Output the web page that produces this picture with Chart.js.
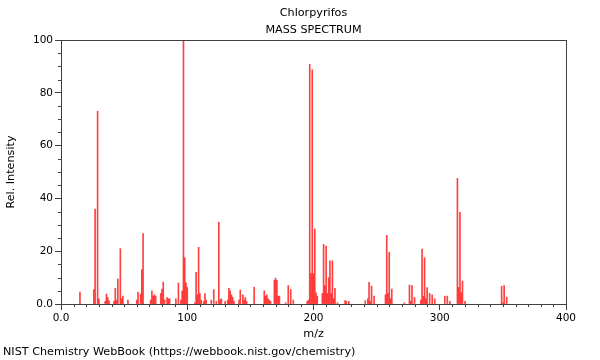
<!DOCTYPE html>
<html>
<head>
<meta charset="utf-8">
<script src="https://cdn.jsdelivr.net/npm/chart.js@4/dist/chart.umd.min.js"></script>
<style>
  html, body { margin: 0; padding: 0; background: #fff; }
  #wrap { width: 600px; height: 360px; }
</style>
</head>
<body>
<div id="wrap"><canvas id="c" width="600" height="360"></canvas></div>
<script>
// ---- data ----
const chartTitle = ['Chlorpyrifos', 'MASS SPECTRUM'];
const footerText = 'NIST Chemistry WebBook (https://webbook.nist.gov/chemistry)';
const xLabel = 'm/z';
const yLabel = 'Rel. Intensity';

const mz = [15,26,27,29,30,35,36,37,38,42,43,44,45,47,48,49,53,60,61,63,64,65,71,72,73,74,75,
  79,80,81,82,84,85,86,91,93,95,96,97,98,99,100,106,107,108,109,110,111,113,114,115,119,121,123,
  125,126,127,130,132,133,134,135,136,137,141,142,144,145,146,147,153,161,162,163,164,165,166,
  169,170,171,172,173,178,180,182,184,195,196,197,198,199,200,201,202,203,207,208,209,210,211,
  212,213,214,215,216,217,219,225,226,228,241,243,244,245,246,248,257,258,259,260,261,262,272,
  276,277,278,280,285,286,287,288,289,290,292,294,296,304,306,308,314,315,316,317,318,320,
  349,350,351,353];
const intensity = [4.5,5.5,36,73,2,1,3.8,2.5,1.2,1,6,1.5,9.5,21,2,3,1.5,1.5,4.4,3.8,13,26.7,1.5,5,3,3.5,3,
  4,5.7,8.3,1.5,2.5,2,2,2,8,1.5,5,100,17.5,8,6.2,0.5,12,3.5,21.5,4,1.5,1,4,1.5,1.5,5.5,1,
  31,1.5,2,1,1.5,6,5,3.5,2.5,1,1.5,5.3,3.5,1.5,2.5,1,6.3,5,3,3.5,2,1.5,1,
  9,9.8,9,3,3,0.5,7,5.5,1.5,1,1.5,90.8,11.5,88.7,11.5,28.4,4.3,3,4,22.6,7,22,4,
  10,16.4,4,16.4,2,6,0.5,1.3,1,1,1.3,2,8.2,1,6.8,3,3.5,26,4,19.6,2,5.7,0.5,
  7.2,1,7,2.5,1.5,20.8,3,17.5,2,6.2,4,3.5,2,3,3,1,47.6,6.3,34.7,4.3,8.7,1,
  6.7,0.5,7,2.6];

const xTicks = [0, 100, 200, 300, 400];
const yTicks = [0, 20, 40, 60, 80, 100];
const xMinorStep = 10;
const yMinorStep = 5;

const FONT = 'DejaVu Sans';
const AXIS_COLOR = '#404040';
const TEXT_SIZE = 11.2;
const TICK_SIZE = 10.5;

const peaks = mz.map((m, i) => ({ x: m, y: intensity[i] }));

// minor ticks + plot frame drawn through the library's scales
const framePlugin = {
  id: 'frameMinor',
  afterDraw(chart) {
    const { ctx, chartArea: a, scales: { x, y } } = chart;
    ctx.save();
    ctx.strokeStyle = AXIS_COLOR;
    ctx.lineWidth = 1;
    ctx.beginPath();
    for (let v = x.min; v <= x.max; v += xMinorStep) {
      if (xTicks.includes(v)) continue;
      const px = Math.round(x.getPixelForValue(v)) + 0.5;
      ctx.moveTo(px, a.bottom);
      ctx.lineTo(px, a.bottom + 3);
    }
    for (let v = y.min; v <= y.max; v += yMinorStep) {
      if (yTicks.includes(v)) continue;
      const py = Math.round(y.getPixelForValue(v)) + 0.5;
      ctx.moveTo(a.left, py);
      ctx.lineTo(a.left - 3, py);
    }
    ctx.stroke();
    ctx.strokeRect(Math.round(a.left) + 0.5, Math.round(a.top) + 0.5,
                   Math.round(a.right - a.left), Math.round(a.bottom - a.top));
    ctx.restore();
  }
};

new Chart(document.getElementById('c'), {
  type: 'bar',
  data: {
    datasets: [{
      data: peaks,
      backgroundColor: 'rgba(255,30,30,0.85)',
      borderWidth: 0,
      barThickness: 1,
    }]
  },
  options: {
    responsive: false,
    animation: false,
    layout: { padding: { left: 3, right: 34, top: 0, bottom: 0 } },
    plugins: {
      legend: { display: false },
      tooltip: { enabled: false },
      title: {
        display: true,
        text: chartTitle,
        fullSize: false,
        color: '#000',
        font: { family: FONT, size: TEXT_SIZE, weight: 'normal', lineHeight: 17 / TEXT_SIZE },
        padding: { top: 4.5, bottom: 1.5 }
      },
      subtitle: {
        display: true,
        text: footerText,
        position: 'bottom',
        align: 'start',
        fullSize: true,
        color: '#000',
        font: { family: FONT, size: TEXT_SIZE, weight: 'normal', lineHeight: 1.2 },
        padding: { top: 0.5, bottom: 1 }
      }
    },
    scales: {
      x: {
        type: 'linear',
        min: 0, max: 400,
        offset: false,
        afterFit(s) { s.height = 41; },
        afterBuildTicks(s) { s.ticks = xTicks.map(v => ({ value: v })); },
        grid: { display: true, drawOnChartArea: false, drawTicks: true, tickLength: 6, color: AXIS_COLOR, offset: false },
        border: { display: true, color: AXIS_COLOR },
        ticks: {
          color: '#000', padding: 2, maxRotation: 0, autoSkip: false,
          font: { family: FONT, size: TICK_SIZE },
          callback: v => v === 0 ? '0.0' : String(v)
        },
        title: {
          display: true, text: xLabel, color: '#000',
          font: { family: FONT, size: TEXT_SIZE, lineHeight: 1.2 },
          padding: { top: 0, bottom: 4.5 }
        }
      },
      y: {
        min: 0, max: 100,
        afterFit(s) { s.width = 58; },
        afterBuildTicks(s) { s.ticks = yTicks.map(v => ({ value: v })); },
        grid: { display: true, drawOnChartArea: false, drawTicks: true, tickLength: 6, color: AXIS_COLOR },
        border: { display: true, color: AXIS_COLOR },
        ticks: {
          color: '#000', padding: 2,
          font: { family: FONT, size: TICK_SIZE },
          callback: v => v === 0 ? '0.0' : String(v)
        },
        title: {
          display: true, text: yLabel, color: '#000',
          font: { family: FONT, size: TEXT_SIZE, lineHeight: 1.2 },
          padding: { top: 1.3, bottom: 0 }
        }
      }
    }
  },
  plugins: [framePlugin]
});
</script>
</body>
</html>
